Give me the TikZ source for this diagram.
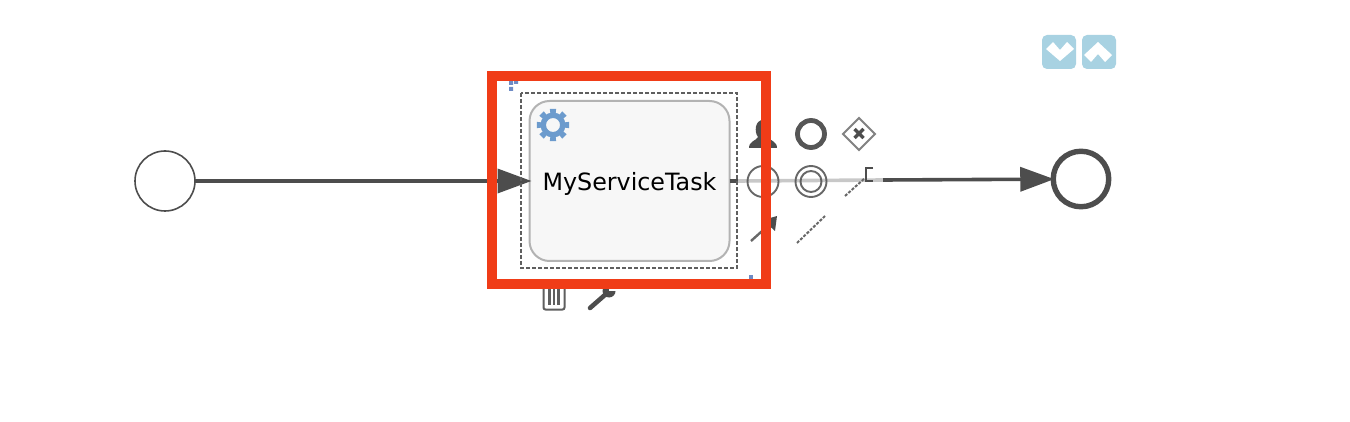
\documentclass[tikz,border=0pt]{standalone}
\usepackage{fontspec}
\setmainfont{DejaVu Sans}
\usetikzlibrary{arrows.meta}
\definecolor{flowc}{HTML}{4D4D4D}
\definecolor{ghost}{HTML}{C8C8C8}
\definecolor{taskline}{HTML}{B3B3B3}
\definecolor{taskfill}{HTML}{F7F7F7}
\definecolor{gearc}{HTML}{6C9BCD}
\definecolor{redc}{HTML}{F03C17}
\definecolor{btn}{HTML}{A8D2E2}
\definecolor{handle}{HTML}{5577BB}
\tikzset{
  startev/.style={circle,draw=flowc,line width=1.6pt,fill=white,minimum size=60pt,inner sep=0pt,outer sep=0pt},
  endev/.style={circle,draw=flowc,line width=5.4pt,fill=white,minimum size=55.5pt,inner sep=0pt,outer sep=0pt},
  taskbox/.style={rectangle,rounded corners=20pt,draw=taskline,line width=2pt,fill=taskfill,minimum width=200pt,minimum height=160pt,inner sep=0pt,outer sep=0pt,font=\fontsize{23.8pt}{28pt}\selectfont,text=black},
  flow/.style={draw=flowc,line width=3.6pt},
  tipped/.style={flow,-{Triangle[length=34pt,width=24pt,fill=flowc]}},
  ghostline/.style={draw=ghost,line width=3.6pt},
  selectbox/.style={draw=flowc!90,line width=1.7pt,dash pattern=on 3.6pt off 2.4pt},
  redframe/.style={draw=redc,line width=10pt},
  icon/.style={draw=flowc,line width=1.9pt,opacity=.85},
  iconthick/.style={draw=flowc,line width=4.8pt,opacity=.95},
  icondash/.style={draw=flowc!85,line width=2pt,dash pattern=on 3pt off 1.5pt},
  btnbox/.style={fill=btn,rounded corners=5pt},
  handledot/.style={fill=handle,opacity=.85}
}
\begin{document}
\begin{tikzpicture}[x=1pt,y=-1pt]
\useasboundingbox (0,0) rectangle (1350,422);
\fill[white] (0,0) rectangle (1350,422);

% buttons
\path[btnbox] (1042,35) rectangle (1076,69);
\fill[white] (1046,49)--(1053,42)--(1060,50)--(1067,42)--(1074,49)--(1060,61)--cycle;
\path[btnbox] (1082,35) rectangle (1116,69);
\fill[white] (1084,55)--(1098,42)--(1112,55)--(1105,62)--(1098,54)--(1091,62)--cycle;

% events and task
\node[startev] (start) at (165,181) {};
\node[endev] (end) at (1081,179) {};
\node[taskbox] (task) at (629.5,181) {\raisebox{-10pt}[9pt][9pt]{MyServiceTask}};

% connectors
\coordinate (gapA) at (738,181);
\coordinate (gapB) at (883,180);
\draw[ghostline] (gapA) -- (gapB);
\draw[flow] (task) -- (gapA);
\draw[tipped,shorten >=-1pt] (gapB) -- (end);
\draw[tipped,shorten >=-2pt] (start) -- (task);

% selection
\draw[selectbox] (521,93) rectangle (737,268);
\fill[handledot] (509,81) rectangle (513,85) (514,80) rectangle (518,84) (509,87) rectangle (513,91);
\fill[handledot] (749,275) rectangle (753,279);

% gear
\begin{scope}[shift={(553,125)}]
\fill[gearc] \foreach \a in {0,45,...,315} { (\a-15:9) -- (\a-11:16.5) -- (\a+11:16.5) -- (\a+15:9) -- cycle };
\fill[gearc,even odd rule] (0,0) circle (12.5) (0,0) circle (7);
\end{scope}

% palette
\fill[flowc] (749,148) .. controls (749,141) and (756,141) .. (758,137) .. controls (754,132) and (755,120) .. (763,120) .. controls (771,120) and (772,132) .. (768,137) .. controls (770,141) and (777,141) .. (777,148) -- cycle;
\draw[iconthick] (811,134) circle (13.5);
\draw[draw=flowc!70,line width=2pt] (859,118) -- (875,134) -- (859,150) -- (843,134) -- cycle;
\draw[draw=flowc,line width=3.4pt] (854.5,129) -- (863.5,138) (863.5,129) -- (854.5,138);
\draw[icon] (763,181.5) circle (15.5);
\draw[icon] (811,181.5) circle (15.5) (811,181.5) circle (10.5);
\draw[icondash] (845,196) -- (865,178);
\draw[draw=flowc,line width=2.4pt] (873,168) -- (866,168) -- (866,181) -- (873,181);
\draw[draw=flowc!85,line width=2.4pt] (751,241) -- (771,223);
\fill[flowc] (777,216) -- (775,231) -- (763,220) -- cycle;
\draw[icondash] (797,243) -- (825,216);

% trash and wrench
\draw[draw=flowc!90,line width=2pt,rounded corners=2pt] (543.5,286) rectangle (564.5,309.5);
\draw[draw=flowc!90,line width=2.2pt] (549.5,289) -- (549.5,305) (554,289) -- (554,305) (558.5,289) -- (558.5,305);
\draw[draw=flowc,line width=4.6pt,line cap=round] (590,308) -- (606,294);
\fill[flowc] (609,291) circle (6.5);
\fill[white] (609,285) rectangle (617,291);

% red frame
\draw[redframe] (492,76) rectangle (766,284);
\end{tikzpicture}
\end{document}
